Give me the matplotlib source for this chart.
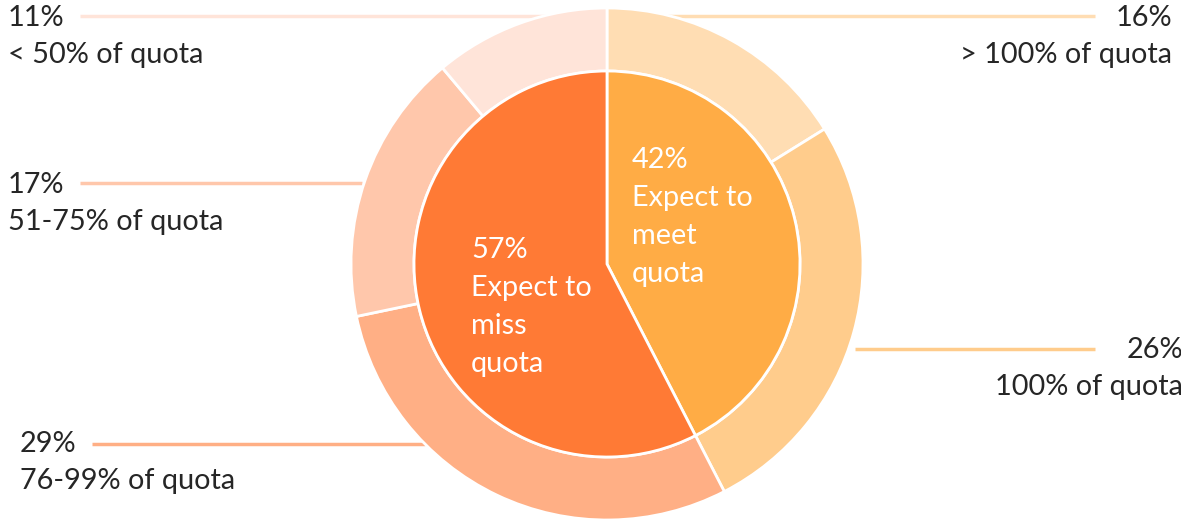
import matplotlib.pyplot as plt

# quota attainment outlook
inner_labels = ["Expect to\nmeet\nquota", "Expect to\nmiss\nquota"]
inner_values = [42, 57]
inner_colors = ["#FFAC45", "#FF7A35"]

outer_labels = ["> 100% of quota", "100% of quota", "76-99% of quota",
                "51-75% of quota", "< 50% of quota"]
outer_values = [16, 26, 29, 17, 11]
outer_colors = ["#FFDDB3", "#FFCC8C", "#FFAF85", "#FFC7AB", "#FFE4D9"]

W, H = 1181, 523
TEXT = "#262626"
plt.rcParams['font.family'] = ['Lato', 'DejaVu Sans']

fig = plt.figure(figsize=(W / 100, H / 100), dpi=100)
ax = fig.add_axes([0, 0, 1, 1])

cx, cy = 607, H - 264
r_out, r_in = 256, 193

ax.pie(outer_values, colors=outer_colors, radius=r_out, center=(cx, cy),
       startangle=90, counterclock=False,
       wedgeprops=dict(width=r_out - r_in, edgecolor="white", linewidth=2))
ax.pie(inner_values, colors=inner_colors, radius=r_in, center=(cx, cy),
       startangle=90, counterclock=False,
       wedgeprops=dict(edgecolor="white", linewidth=2))

ax.set_xlim(0, W)
ax.set_ylim(0, H)
ax.set_aspect("equal")
ax.axis("off")

fs = 20.8

def block(x, y, lines, ha="left", color=TEXT, step=37):
    for i, s in enumerate(lines):
        ax.text(x, H - (y + i * step), s, ha=ha, va="baseline",
                fontsize=fs, color=color)

# inner labels
block(632, 168, [f"{inner_values[0]}%"] + inner_labels[0].split("\n"),
      color="white", step=38)
block(471, 258, [f"{inner_values[1]}%"] + inner_labels[1].split("\n"),
      color="white", step=38)

# outer labels: (text x, baseline y, align, leader x0, leader x1, leader y)
outer_pos = [
    (1172, 26, "right", 608, 1095, 16),
    (1183, 358, "right", 855, 1095, 349),
    (20, 452, "left", 92, 425, 444),
    (8, 193, "left", 80, 362, 183),
    (8, 26, "left", 80, 605, 16),
]
for val, lab, col, (tx, ty, ha, x0, x1, ly) in zip(outer_values, outer_labels,
                                                    outer_colors, outer_pos):
    ax.plot([x0, x1], [H - ly, H - ly], color=col, lw=2.5,
            solid_capstyle="butt", zorder=0)
    block(tx, ty, [f"{val}%", lab], ha=ha)

fig.savefig("out.png", dpi=100)
